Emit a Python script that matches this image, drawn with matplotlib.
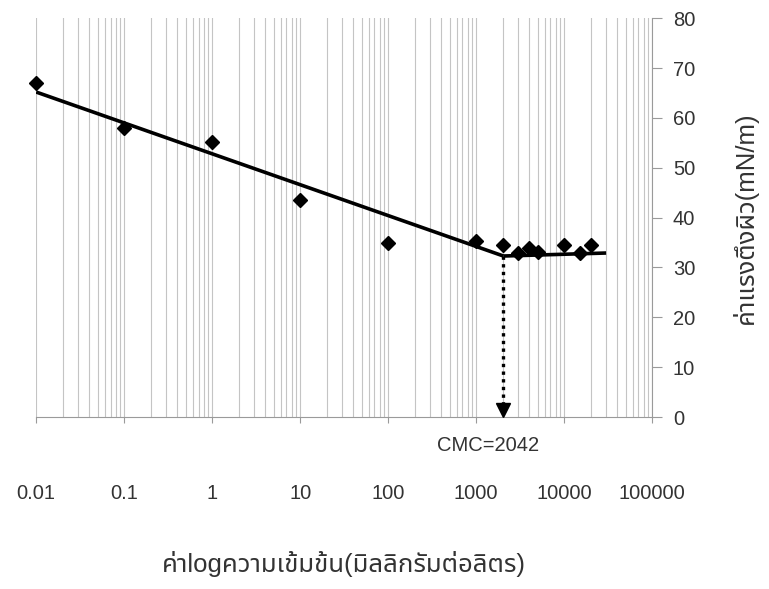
import matplotlib
matplotlib.use("Agg")
import matplotlib.pyplot as plt
import matplotlib.transforms as mtransforms
from matplotlib import font_manager
from matplotlib.ticker import FixedLocator, LogLocator, NullFormatter

# surface tension vs concentration (mg/L)
conc = [0.01, 0.1, 1, 10, 100, 1000, 2000, 3000, 4000, 5000, 10000, 15000, 20000]
tension = [67.0, 58.0, 55.2, 43.5, 35.0, 35.3, 34.5, 33.0, 34.0, 33.2, 34.5, 33.0, 34.5]

# the two fitted lines, meeting at the CMC
cmc = 2042
fit1_x = [0.01, cmc]
fit1_y = [65.2, 32.3]
fit2_x = [cmc, 30000]
fit2_y = [32.3, 32.9]

xticks = [0.01, 0.1, 1, 10, 100, 1000, 10000, 100000]
xtick_labels = ["0.01", "0.1", "1", "10", "100", "1000", "10000", "100000"]
yticks = [0, 10, 20, 30, 40, 50, 60, 70, 80]

xlabel = "ค่าlogความเข้มข้น(มิลลิกรัมต่อลิตร)"
ylabel = "ค่าแรงตึงผิว(mN/m)"

# pick whatever installed fonts can show Thai, keep Arial-like font first
have = {f.name for f in font_manager.fontManager.ttflist}
wanted = ["Liberation Sans", "Noto Sans Thai", "Loma", "Garuda", "Tlwg Typo",
          "Waree", "Noto Sans", "DejaVu Sans"]
families = [f for f in wanted if f in have] or ["DejaVu Sans"]
plt.rcParams["font.family"] = families

grey = "#9a9a9a"
text_col = "#333333"

fig = plt.figure(figsize=(7.69, 5.89), dpi=100)
ax = fig.add_axes([0.047, 0.292, 0.801, 0.677])

ax.set_xscale("log")
ax.set_xlim(0.01, 100000)
ax.set_ylim(0, 80)

# vertical grid on every decade and sub-decade
ax.xaxis.set_major_locator(FixedLocator(xticks))
ax.xaxis.set_minor_locator(LogLocator(base=10, subs=range(2, 10), numticks=20))
ax.xaxis.set_minor_formatter(NullFormatter())
ax.grid(True, which="both", axis="x", color="#c4c4c4", linewidth=0.8)
ax.set_axisbelow(True)

ax.plot(fit1_x, fit1_y, color="black", linewidth=2.6, solid_capstyle="butt")
ax.plot(fit2_x, fit2_y, color="black", linewidth=2.6, solid_capstyle="butt")
ax.plot(conc, tension, linestyle="none", marker="D", markersize=7.5,
        color="black", zorder=4, clip_on=False)

# dotted drop line from the break point down to the axis
ax.plot([cmc, cmc], [fit1_y[1], 0], color="black", linewidth=2.4,
        dashes=(1, 1.3), dash_capstyle="butt")
arrow_tr = mtransforms.offset_copy(ax.transData, fig=fig, y=7, units="dots")
ax.plot([cmc], [0], marker="v", markersize=10, color="black",
        transform=arrow_tr, clip_on=False, zorder=5)

ax.annotate("CMC=2042", xy=(cmc, 0), xytext=(-11, -14), textcoords="offset points",
            ha="center", va="top", fontsize=14.5, color=text_col)

# spines: only bottom line and the right-hand value axis
ax.spines["top"].set_visible(False)
ax.spines["left"].set_visible(False)
ax.spines["bottom"].set_color(grey)
ax.spines["right"].set_color(grey)

ax.set_xticks(xticks)
ax.set_xticklabels(xtick_labels)
ax.tick_params(axis="x", which="major", direction="out", length=4, width=0.8,
               color=grey, pad=44, labelsize=14.5, labelcolor=text_col)
ax.tick_params(axis="x", which="minor", length=0)

ax.yaxis.tick_right()
ax.yaxis.set_label_position("right")
ax.set_yticks(yticks)
ax.tick_params(axis="y", direction="out", length=7, width=0.8, color=grey,
               pad=8, labelsize=14.5, labelcolor=text_col)

ax.set_xlabel(xlabel, fontsize=18.5, color=text_col, labelpad=35)
ax.set_ylabel(ylabel, fontsize=18.5, color=text_col, labelpad=26)

fig.savefig("out.png", dpi=100, facecolor="white")
